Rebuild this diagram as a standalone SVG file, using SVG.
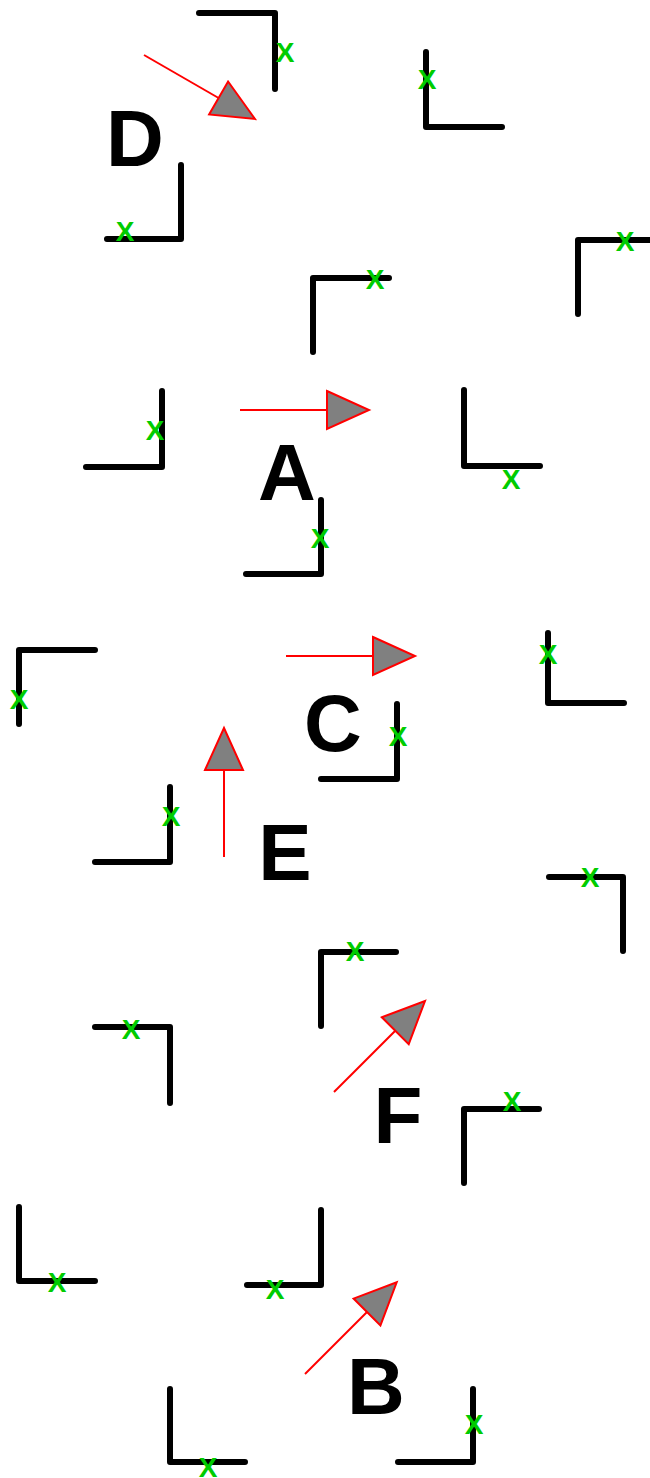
<svg xmlns="http://www.w3.org/2000/svg" width="650" height="1478" viewBox="0 0 650 1478">
<style>
.c{fill:none;stroke:#000;stroke-width:6;stroke-linecap:round;stroke-linejoin:round}
.x{font-family:"Liberation Sans",Arial,sans-serif;font-weight:bold;font-size:28px;fill:#00cc00;text-anchor:middle}
.l{font-family:"Liberation Sans",Arial,sans-serif;font-weight:bold;font-size:80px;fill:#000;text-anchor:middle}
.a{fill:none;stroke:#ff0000;stroke-width:2;marker-end:url(#ah)}
</style>
<defs>
<marker id="ah" markerUnits="userSpaceOnUse" markerWidth="46" markerHeight="42" refX="1" refY="21" orient="auto" overflow="visible">
<path d="M1,2 L43,21 L1,40 Z" fill="#808080" stroke="#ff0000" stroke-width="2"/>
</marker>
</defs>
<g id="corners">
<g id="n1"><polyline class="c" points="199,13 275,13 275,89"/><text class="x" x="285" y="62">X</text></g>
<g id="n2"><polyline class="c" points="426,52 426,127 502,127"/><text class="x" x="427" y="89">X</text></g>
<g id="n3"><polyline class="c" points="181,165 181,239 107,239"/><text class="x" x="125" y="241">X</text></g>
<g id="n4"><polyline class="c" points="578,314 578,240 654,240"/><text class="x" x="625" y="251">X</text></g>
<g id="n5"><polyline class="c" points="313,352 313,278 389,278"/><text class="x" x="375" y="289">X</text></g>
<g id="n6"><polyline class="c" points="162,391 162,467 86,467"/><text class="x" x="155" y="440">X</text></g>
<g id="n7"><polyline class="c" points="464,390 464,466 540,466"/><text class="x" x="511" y="489">X</text></g>
<g id="n8"><polyline class="c" points="321,500 321,574 246,574"/><text class="x" x="320" y="548">X</text></g>
<g id="n9"><polyline class="c" points="19,724 19,650 95,650"/><text class="x" x="19" y="709">X</text></g>
<g id="n10"><polyline class="c" points="548,633 548,703 624,703"/><text class="x" x="548" y="664">X</text></g>
<g id="n11"><polyline class="c" points="397,704 397,779 321,779"/><text class="x" x="398" y="746">X</text></g>
<g id="n12"><polyline class="c" points="170,787 170,862 95,862"/><text class="x" x="171" y="826">X</text></g>
<g id="n13"><polyline class="c" points="549,877 623,877 623,951"/><text class="x" x="590" y="887">X</text></g>
<g id="n14"><polyline class="c" points="321,1026 321,952 396,952"/><text class="x" x="355" y="961">X</text></g>
<g id="n15"><polyline class="c" points="95,1027 170,1027 170,1103"/><text class="x" x="131" y="1039">X</text></g>
<g id="n16"><polyline class="c" points="464,1183 464,1109 539,1109"/><text class="x" x="512" y="1111">X</text></g>
<g id="n17"><polyline class="c" points="19,1207 19,1281 95,1281"/><text class="x" x="57" y="1292">X</text></g>
<g id="n18"><polyline class="c" points="321,1210 321,1285 247,1285"/><text class="x" x="275" y="1299">X</text></g>
<g id="n19"><polyline class="c" points="170,1389 170,1462 245,1462"/><text class="x" x="208" y="1477">X</text></g>
<g id="n20"><polyline class="c" points="473,1389 473,1462 398,1462"/><text class="x" x="474" y="1434">X</text></g>
</g>
<g id="labels">
<text class="l" x="135" y="166">D</text>
<text class="l" x="287" y="500">A</text>
<text class="l" x="333" y="751">C</text>
<text class="l" x="285" y="880">E</text>
<text class="l" x="398" y="1143">F</text>
<text class="l" x="376" y="1414">B</text>
</g>
<g id="connectors">
<line class="a" x1="144" y1="55" x2="218.6" y2="98"/>
<line class="a" x1="240" y1="410" x2="327" y2="410"/>
<line class="a" x1="286" y1="656" x2="373" y2="656"/>
<line class="a" x1="224" y1="857" x2="224" y2="770"/>
<line class="a" x1="334" y1="1092" x2="395.3" y2="1030.7"/>
<line class="a" x1="305" y1="1374" x2="367" y2="1312"/>
</g>
</svg>
